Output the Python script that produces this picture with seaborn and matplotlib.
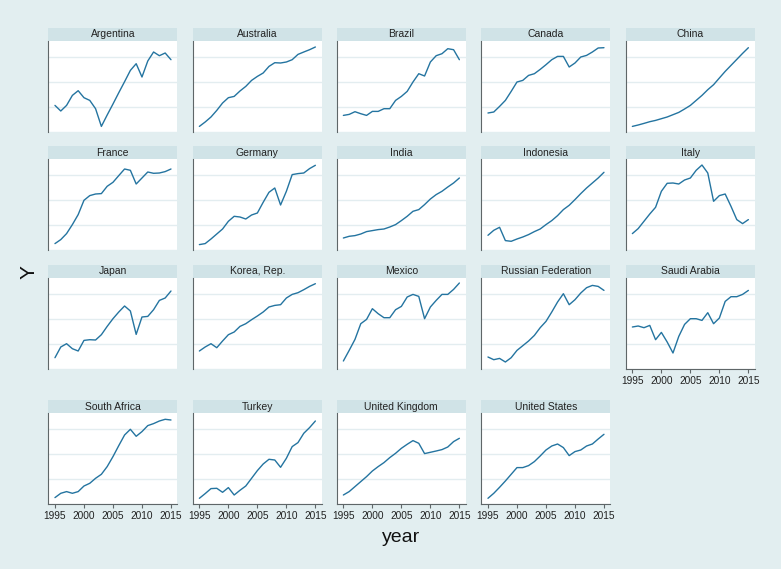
import pandas as pd
import matplotlib.pyplot as plt
import seaborn as sns
from matplotlib.patches import Rectangle
from matplotlib.ticker import MaxNLocator

# Datos (Y sin escala visible, unidades relativas al panel)
years = list(range(1995, 2016))
year_ticks = [1995, 2000, 2005, 2010, 2015]

countries = ['Argentina', 'Australia', 'Brazil', 'Canada', 'China',
             'France', 'Germany', 'India', 'Indonesia', 'Italy',
             'Japan', 'Korea, Rep.', 'Mexico', 'Russian Federation', 'Saudi Arabia',
             'South Africa', 'Turkey', 'United Kingdom', 'United States']

argentina = [26.3, 20.7, 26.3, 36.3, 41.0, 34.0, 31.3, 23.0, 5.3, 16.7, 27.7,
             39.0, 50.0, 61.3, 68.0, 54.7, 70.7, 79.7, 76.0, 78.7, 72.0]
australia = [5.3, 9.7, 14.7, 21.3, 28.7, 34.0, 35.3, 40.7, 45.3, 51.3, 55.3,
             58.7, 65.3, 69.0, 68.7, 69.7, 72.0, 77.3, 79.7, 82.0, 84.7]
brazil = [16.3, 17.3, 20.0, 18.0, 16.3, 20.3, 20.3, 23.0, 23.0, 31.3, 35.3,
          40.3, 49.7, 58.0, 55.7, 69.7, 76.0, 78.0, 83.0, 82.0, 72.0]
canada = [18.7, 19.7, 25.3, 31.3, 40.3, 49.7, 51.3, 56.3, 58.0, 62.3, 67.0,
          72.0, 75.3, 75.3, 64.7, 68.7, 74.7, 76.3, 79.7, 83.7, 84.0]
china = [5.3, 6.7, 8.3, 10.0, 11.3, 13.0, 14.7, 17.0, 19.3, 22.7, 26.3,
         31.3, 36.3, 42.0, 47.0, 53.7, 60.3, 66.3, 72.3, 78.3, 84.0]
france = [6.7, 10.7, 16.7, 25.7, 35.7, 50.0, 54.7, 56.3, 56.7, 64.0, 68.0,
          74.7, 81.3, 80.0, 66.3, 72.3, 78.3, 77.0, 77.3, 78.7, 81.3]
germany = [5.7, 6.7, 11.3, 16.3, 21.3, 29.0, 34.0, 33.3, 31.3, 35.3, 37.3,
           48.0, 58.0, 62.3, 45.3, 59.0, 75.7, 76.7, 77.3, 81.7, 85.0]
india = [12.3, 14.0, 14.7, 16.3, 18.7, 19.7, 20.7, 21.3, 23.3, 25.7, 29.7,
         34.0, 39.0, 40.7, 45.7, 51.3, 55.7, 59.0, 63.3, 67.3, 72.3]
indonesia = [15.0, 20.0, 23.0, 9.7, 9.0, 11.3, 13.3, 15.7, 18.7, 21.3, 25.7,
             29.7, 34.7, 40.7, 45.0, 50.7, 56.7, 62.3, 67.3, 72.3, 78.0]
italy = [16.7, 21.7, 29.0, 36.3, 43.0, 59.0, 67.0, 67.3, 66.3, 70.3, 72.3,
         80.0, 85.3, 77.3, 49.0, 54.7, 56.3, 44.0, 30.7, 26.7, 30.7]
japan = [11.0, 21.7, 25.0, 20.0, 17.7, 28.3, 29.0, 28.7, 34.0, 42.3, 50.0,
         56.7, 62.7, 57.7, 34.3, 51.7, 52.3, 59.0, 68.3, 70.7, 77.7]
korea = [17.7, 21.7, 25.0, 21.0, 27.7, 34.0, 36.7, 42.3, 45.0, 49.0, 52.7,
         56.7, 61.7, 63.3, 64.0, 70.7, 74.3, 76.0, 79.0, 82.3, 85.0]
mexico = [7.7, 18.3, 29.3, 45.0, 49.3, 60.0, 55.0, 51.0, 51.0, 59.0, 62.3,
          71.7, 74.3, 72.3, 50.0, 61.7, 68.3, 74.3, 74.3, 79.3, 85.7]
russia = [11.7, 9.0, 10.3, 6.7, 11.0, 18.3, 23.0, 27.7, 33.3, 41.0, 47.3,
          56.7, 66.7, 75.0, 64.0, 69.0, 75.7, 81.0, 83.3, 82.3, 78.3]
saudi = [41.7, 42.7, 41.0, 43.3, 29.0, 36.3, 26.7, 15.7, 32.3, 44.3, 50.0,
         50.0, 48.3, 56.0, 45.0, 50.7, 67.3, 72.0, 72.0, 74.3, 78.3]
south_africa = [6.7, 11.0, 12.7, 11.0, 12.7, 18.3, 21.0, 26.0, 30.0, 37.7, 47.7,
                58.7, 69.3, 75.0, 68.0, 72.7, 78.7, 80.7, 83.3, 85.0, 84.3]
turkey = [6.0, 10.7, 15.7, 16.0, 12.0, 16.7, 9.3, 14.0, 18.3, 26.0, 33.7,
          40.3, 45.0, 44.3, 37.0, 46.0, 57.7, 61.7, 71.0, 76.7, 83.3]
uk = [9.3, 12.7, 17.7, 22.7, 27.7, 33.3, 37.7, 41.7, 46.7, 51.0, 56.0,
      60.0, 63.7, 61.0, 50.7, 52.0, 53.3, 54.7, 57.3, 62.7, 66.0]
us = [6.0, 11.0, 17.0, 23.3, 30.0, 36.7, 36.7, 38.7, 42.7, 48.3, 54.3,
      58.3, 60.3, 56.7, 48.7, 52.7, 54.3, 58.3, 60.3, 65.3, 70.0]

series = dict(zip(countries, [argentina, australia, brazil, canada, china,
                              france, germany, india, indonesia, italy,
                              japan, korea, mexico, russia, saudi,
                              south_africa, turkey, uk, us]))

df = pd.DataFrame([(c, y, v) for c in countries for y, v in zip(years, series[c])],
                  columns=['country', 'year', 'Y'])

# Estilo tipo Stata s2color
bg = '#e2eef0'
strip_color = '#d0e3e7'
line_color = '#2474a0'
axis_color = '#5f6668'

sns.set_style('white')
plt.rcParams['font.family'] = ['Liberation Sans', 'DejaVu Sans']

g = sns.relplot(data=df, x='year', y='Y', col='country', col_order=countries,
                col_wrap=5, kind='line', color=line_color, linewidth=1.0,
                height=1.5, aspect=1.4, facet_kws=dict(sharey=False, sharex=True))
fig = g.figure
fig.set_size_inches(7.81, 5.69)
fig.set_facecolor(bg)
g.set_titles('')
g.set_axis_labels('', '')

W, H = 781, 569
col_left = [48.3, 192.7, 336.7, 481.3, 625.7]
row_top = [40.7, 159.3, 277.7, 413.3]
pw, ph = 129, 91
strip_h = 13

n = len(countries)
for i, ax in enumerate(g.axes.flat):
    r, c = divmod(i, 5)
    ax.set_position([col_left[c] / W, 1 - (row_top[r] + ph) / H, pw / W, ph / H])
    ax.set_facecolor('white')
    ax.set_xlim(1993.85, 2016.09)
    ax.set_ylim(0, 91)
    ax.yaxis.set_major_locator(MaxNLocator(nbins=4))
    ax.grid(axis='y', color='#e3edf0', linewidth=1.0)
    ax.grid(axis='x', visible=False)
    ax.set_axisbelow(True)
    ax.tick_params(axis='y', left=False, labelleft=False)
    ax.spines['left'].set_color(axis_color)
    ax.spines['left'].set_linewidth(0.8)
    for s in ['top', 'right']:
        ax.spines[s].set_visible(False)

    bottom = i + 5 >= n
    ax.set_xticks(year_ticks)
    if bottom:
        ax.spines['bottom'].set_visible(True)
        ax.spines['bottom'].set_color(axis_color)
        ax.spines['bottom'].set_linewidth(0.8)
        ax.tick_params(axis='x', bottom=True, labelbottom=True, length=3,
                       width=0.8, color=axis_color, labelsize=7.3, pad=2,
                       labelcolor='#222222')
    else:
        ax.spines['bottom'].set_visible(False)
        ax.tick_params(axis='x', bottom=False, labelbottom=False)

    # Cabecera del panel
    ax.add_patch(Rectangle((0, 1), 1, strip_h / ph, transform=ax.transAxes,
                           facecolor=strip_color, edgecolor='none', clip_on=False))
    ax.text(0.5, 1 + strip_h / ph / 2, countries[i], transform=ax.transAxes,
            ha='center', va='center', fontsize=7.5, color='#222222')

fig.text(29 / W, 1 - 272 / H, 'Y', rotation=90, ha='center', va='center',
         fontsize=15, color='#111111')
fig.text(401 / W, 1 - 538 / H, 'year', ha='center', va='center',
         fontsize=14, color='#111111')

fig.savefig('out.png', dpi=100, facecolor=bg)
